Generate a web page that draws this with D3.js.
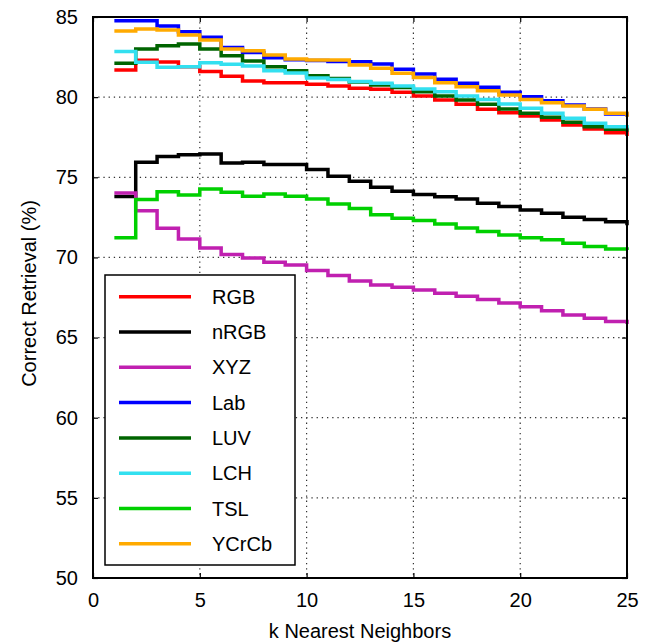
<!DOCTYPE html>
<html>
<head>
<meta charset="utf-8">
<script src="https://cdn.jsdelivr.net/npm/d3@7"></script>
<style>
  body { margin: 0; background: #fff; }
  svg { font-family: "Liberation Sans", Arial, sans-serif; }
</style>
</head>
<body>
<svg id="chart" width="652" height="643"></svg>
<script>
// k = 1..25
const kValues = d3.range(1, 26);

const rgb   = [81.7, 82.3, 82.2, 81.9, 81.6, 81.3, 81.0, 80.9, 80.9, 80.8, 80.7, 80.55, 80.5, 80.3, 80.07, 79.82, 79.55, 79.24, 79.03, 78.82, 78.57, 78.26, 78.01, 77.78, 77.57];
const nrgb  = [73.8, 75.94, 76.29, 76.41, 76.46, 75.89, 75.94, 75.79, 75.79, 75.48, 75.06, 74.76, 74.38, 74.13, 73.92, 73.79, 73.65, 73.38, 73.17, 72.96, 72.75, 72.5, 72.36, 72.23, 72.0];
const xyz   = [74.02, 72.92, 71.82, 71.15, 70.59, 70.18, 69.97, 69.7, 69.53, 69.18, 68.87, 68.53, 68.28, 68.14, 67.97, 67.77, 67.58, 67.37, 67.16, 66.93, 66.68, 66.41, 66.21, 66.0, 65.85];
const lab   = [84.77, 84.77, 84.44, 84.08, 83.73, 83.1, 82.78, 82.46, 82.33, 82.28, 82.22, 82.21, 82.07, 81.74, 81.44, 81.11, 80.86, 80.61, 80.3, 80.03, 79.78, 79.51, 79.26, 78.95, 78.8];
const luv   = [82.11, 83.0, 83.21, 83.32, 83.0, 82.59, 82.26, 81.9, 81.65, 81.34, 81.17, 80.95, 80.75, 80.6, 80.34, 80.07, 79.82, 79.55, 79.26, 78.99, 78.74, 78.43, 78.16, 78.0, 77.85];
const lch   = [82.84, 82.17, 81.86, 81.9, 82.15, 82.05, 81.95, 81.65, 81.5, 81.2, 81.1, 80.97, 80.86, 80.69, 80.51, 80.34, 80.07, 79.86, 79.57, 79.3, 78.99, 78.68, 78.37, 78.16, 78.05];
const tsl   = [71.22, 73.61, 74.1, 73.9, 74.27, 74.06, 73.81, 73.96, 73.81, 73.65, 73.34, 73.05, 72.67, 72.44, 72.3, 72.09, 71.84, 71.61, 71.4, 71.22, 71.11, 70.88, 70.68, 70.53, 70.47];
const ycrcb = [84.13, 84.25, 84.19, 83.87, 83.56, 83.0, 82.9, 82.63, 82.38, 82.32, 82.32, 82.0, 81.8, 81.49, 81.22, 80.9, 80.65, 80.4, 80.13, 79.86, 79.65, 79.44, 79.24, 78.99, 78.78];

const seriesNames  = ["RGB", "nRGB", "XYZ", "Lab", "LUV", "LCH", "TSL", "YCrCb"];
const seriesValues = [rgb, nrgb, xyz, lab, luv, lch, tsl, ycrcb];
const seriesColors = ["#ff0000", "#000000", "#c020b0", "#0000ff", "#006400", "#33e0f0", "#00d000", "#ffaa00"];

const xTicks = [0, 5, 10, 15, 20, 25];
const yTicks = [50, 55, 60, 65, 70, 75, 80, 85];

const svg = d3.select("#chart");
const plotLeft = 93, plotRight = 627, plotTop = 17, plotBottom = 578;
const fontSize = 20;

const x = d3.scaleLinear().domain([0, 25]).range([plotLeft, plotRight]);
const y = d3.scaleLinear().domain([50, 85]).range([plotBottom, plotTop]);

// grid
const grid = svg.append("g")
  .attr("stroke", "#333")
  .attr("stroke-width", 1.2)
  .attr("stroke-dasharray", "1.3,3.9");
grid.selectAll("line.vx").data(xTicks.slice(1, -1)).join("line")
  .attr("x1", d => x(d)).attr("x2", d => x(d))
  .attr("y1", plotTop).attr("y2", plotBottom);
grid.selectAll("line.hy").data(yTicks.slice(1, -1)).join("line")
  .attr("x1", plotLeft).attr("x2", plotRight)
  .attr("y1", d => y(d)).attr("y2", d => y(d));

// axes (inward ticks like matlab)
const tickLen = 5;
svg.append("g").attr("transform", `translate(0,${plotBottom})`)
  .call(d3.axisBottom(x).tickValues(xTicks).tickSizeInner(-tickLen).tickSizeOuter(0).tickPadding(15))
  .call(g => g.select(".domain").remove());
svg.append("g").attr("transform", `translate(0,${plotTop})`)
  .call(d3.axisTop(x).tickValues(xTicks).tickSizeInner(-tickLen).tickSizeOuter(0).tickFormat(""))
  .call(g => g.select(".domain").remove());
svg.append("g").attr("transform", `translate(${plotLeft},0)`)
  .call(d3.axisLeft(y).tickValues(yTicks).tickSizeInner(-tickLen).tickSizeOuter(0).tickPadding(15))
  .call(g => g.select(".domain").remove());
svg.append("g").attr("transform", `translate(${plotRight},0)`)
  .call(d3.axisRight(y).tickValues(yTicks).tickSizeInner(-tickLen).tickSizeOuter(0).tickFormat(""))
  .call(g => g.select(".domain").remove());

svg.selectAll(".tick line").attr("stroke", "#000").attr("stroke-width", 1.2);
svg.selectAll(".tick text")
  .attr("font-family", "'Liberation Sans', Arial, sans-serif")
  .attr("font-size", fontSize)
  .attr("fill", "#000");

// series
const line = d3.line()
  .x((d, i) => x(kValues[i]))
  .y(d => y(d))
  .curve(d3.curveStepAfter);

svg.append("g").selectAll("path").data(seriesValues).join("path")
  .attr("d", d => line(d))
  .attr("fill", "none")
  .attr("stroke", (d, i) => seriesColors[i])
  .attr("stroke-width", 3.5);

// frame
svg.append("rect")
  .attr("x", plotLeft).attr("y", plotTop)
  .attr("width", plotRight - plotLeft).attr("height", plotBottom - plotTop)
  .attr("fill", "none").attr("stroke", "#000").attr("stroke-width", 2);

// axis labels
svg.append("text")
  .attr("x", (plotLeft + plotRight) / 2).attr("y", 638)
  .attr("text-anchor", "middle")
  .attr("font-size", fontSize)
  .text("k Nearest Neighbors");
svg.append("text")
  .attr("transform", `translate(36,${(plotTop + plotBottom) / 2 - 4}) rotate(-90)`)
  .attr("text-anchor", "middle")
  .attr("font-size", fontSize)
  .text("Correct Retrieval (%)");

// legend
const legend = svg.append("g");
legend.append("rect")
  .attr("x", 105).attr("y", 275).attr("width", 190).attr("height", 290)
  .attr("fill", "#fff").attr("stroke", "#000").attr("stroke-width", 1.5);
const rows = legend.selectAll("g.row").data(seriesNames).join("g")
  .attr("transform", (d, i) => `translate(0,${296.7 + i * 35.3})`);
rows.append("line")
  .attr("x1", 119).attr("x2", 191)
  .attr("stroke", (d, i) => seriesColors[i])
  .attr("stroke-width", 3.5);
rows.append("text")
  .attr("x", 212).attr("y", 7)
  .attr("font-size", fontSize)
  .text(d => d);
</script>
</body>
</html>
